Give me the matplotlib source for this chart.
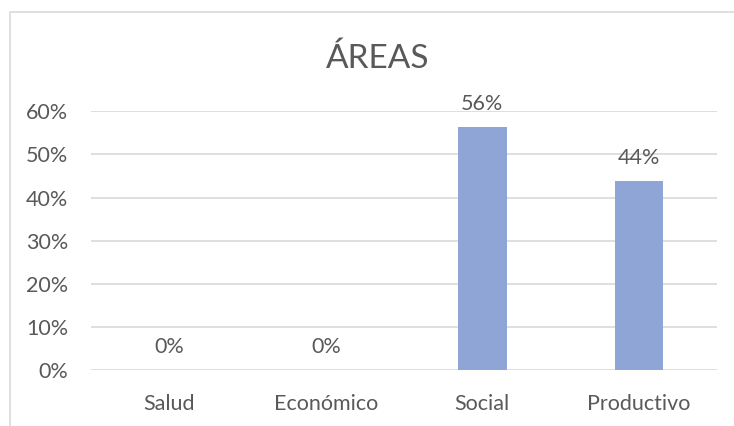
import matplotlib
matplotlib.use('Agg')
from matplotlib import pyplot as plt
from matplotlib.patches import Rectangle
from matplotlib.ticker import PercentFormatter

categories = ['Salud', 'Económico', 'Social', 'Productivo']
shares = [0.0, 0.0, 56.25, 43.75]
labels = ['0%', '0%', '56%', '44%']
yticks = [0, 10, 20, 30, 40, 50, 60]

gray = '#595959'
plt.rcParams['font.family'] = ['Lato', 'DejaVu Sans']

fig = plt.figure(figsize=(7.34, 4.26), dpi=100)
ax = fig.add_axes([0.124, 0.131, 0.853, 0.608])

# chart frame (only left and top edges show in the picture)
fig.patches.append(Rectangle((10 / 734, -0.1), 1.2, 1 - 12 / 426 + 0.1,
                             transform=fig.transFigure, fill=False,
                             edgecolor='#d9d9d9', linewidth=1.2))

x = range(len(categories))
ax.bar(x, shares, width=0.31, color='#8fa5d6', zorder=3)
for xi, v, lab in zip(x, shares, labels):
    ax.annotate(lab, (xi, v), xytext=(0, 9.5), textcoords='offset points',
                ha='center', va='bottom', fontsize=15.5, color=gray)

ax.set_xlim(-0.5, 3.5)
ax.set_ylim(0, 60)
ax.set_yticks(yticks)
ax.yaxis.set_major_formatter(PercentFormatter(decimals=0))
ax.set_xticks(list(x))
ax.set_xticklabels(categories)
ax.grid(axis='y', color='#d9d9d9', linewidth=1.2, zorder=0)
for s in ax.spines.values():
    s.set_visible(False)
ax.tick_params(axis='both', length=0, labelsize=15.5, labelcolor=gray)
ax.tick_params(axis='y', pad=16.5)
ax.tick_params(axis='x', pad=17)

fig.text(0.515, 0.862, 'ÁREAS', ha='center', va='center', fontsize=24, color=gray)

plt.savefig('out.png', dpi=100)
